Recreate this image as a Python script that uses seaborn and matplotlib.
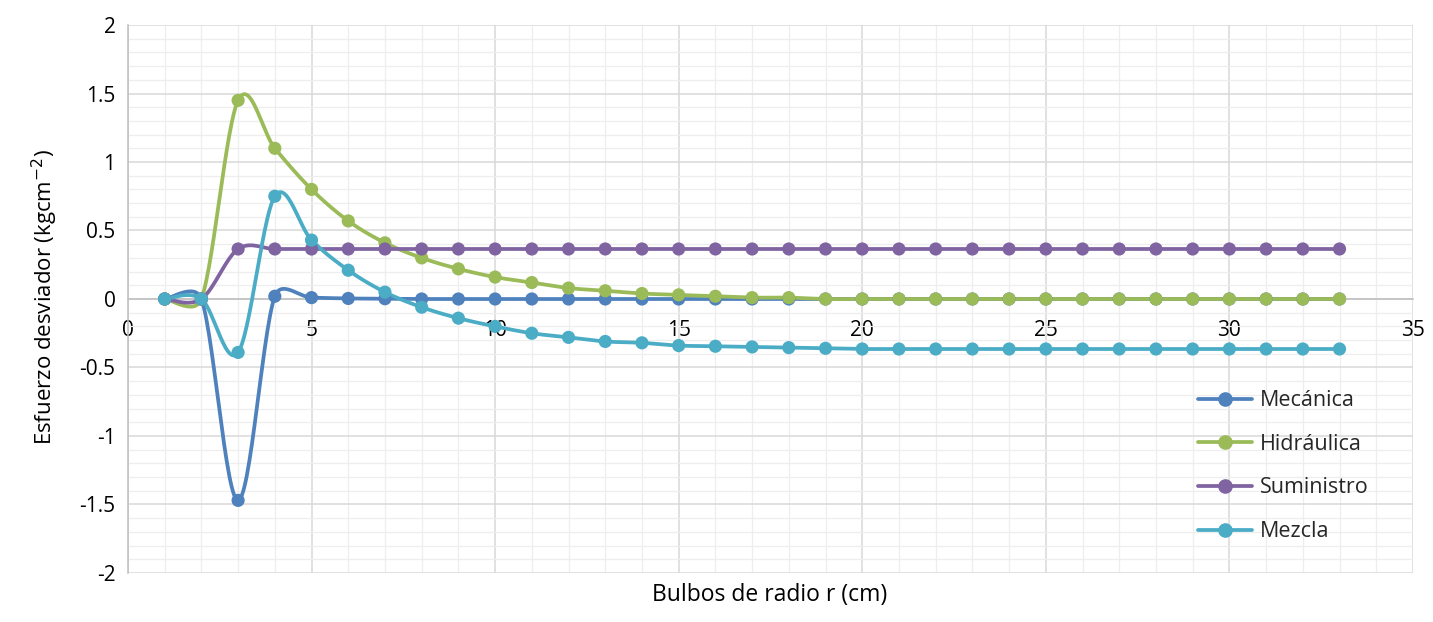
import numpy as np
import pandas as pd
import matplotlib
matplotlib.use("Agg")
import matplotlib.pyplot as plt
import seaborn as sns
from matplotlib.ticker import MultipleLocator

# ---- data ----
radio = list(range(1, 34))
mecanica = [0, 0, -1.47, 0.02, 0.01, 0.004, 0.002] + [0.0] * 26
hidraulica = [0, 0, 1.45, 1.10, 0.80, 0.57, 0.41, 0.30, 0.22, 0.16, 0.12, 0.08,
              0.06, 0.04, 0.03, 0.02, 0.01, 0.01] + [0.0] * 15
suministro = [0, 0] + [0.365] * 31
mezcla = [0, 0, -0.39, 0.75, 0.43, 0.21, 0.05, -0.06, -0.14, -0.20, -0.25, -0.28,
          -0.31, -0.32, -0.34, -0.345, -0.35, -0.355, -0.36] + [-0.365] * 14

series_names = ["Mecánica", "Hidráulica", "Suministro", "Mezcla"]
series_values = [mecanica, hidraulica, suministro, mezcla]
colors = ["#4F81BD", "#9BBB59", "#8064A2", "#4BACC6"]

x_ticks = [0, 5, 10, 15, 20, 25, 30, 35]
y_ticks = [-2, -1.5, -1, -0.5, 0, 0.5, 1, 1.5, 2]

# approximate pixel scale of the plot area (used only for the curve smoothing)
PX_X, PX_Y = 36.7, 137.0


def smooth(xs, ys, n=30):
    """Excel-like Bezier smoothing with limited control-point length."""
    p = np.column_stack([np.asarray(xs, float) * PX_X, np.asarray(ys, float) * PX_Y])
    pe = np.vstack([p[0], p, p[-1]])
    t = np.linspace(0, 1, n)
    out = []
    for i in range(len(p) - 1):
        a, b, c, d = pe[i], pe[i + 1], pe[i + 2], pe[i + 3]
        seg_len = np.linalg.norm(c - b)
        v1 = c - a
        v2 = d - b
        n1, n2 = np.linalg.norm(v1), np.linalg.norm(v2)
        f1 = 1 / 6 if n1 == 0 else min(1 / 6, 0.5 * seg_len / n1)
        f2 = 1 / 6 if n2 == 0 else min(1 / 6, 0.5 * seg_len / n2)
        c1 = b + v1 * f1
        c2 = c - v2 * f2
        seg = ((1 - t) ** 3)[:, None] * b + (3 * (1 - t) ** 2 * t)[:, None] * c1 \
            + (3 * (1 - t) * t ** 2)[:, None] * c2 + (t ** 3)[:, None] * c
        out.append(seg if i == 0 else seg[1:])
    s = np.vstack(out)
    return s[:, 0] / PX_X, s[:, 1] / PX_Y


sns.set_theme(style="white")
plt.rcParams["font.family"] = ["Open Sans", "DejaVu Sans"]

fig = plt.figure(figsize=(14.33, 6.22), dpi=100)
ax = fig.add_axes([0.0893, 0.0788, 0.8967, 0.881])

for name, vals, col in zip(series_names, series_values, colors):
    sx, sy = smooth(radio, vals)
    sm = pd.DataFrame({"x": sx, "y": sy})
    sns.lineplot(data=sm, x="x", y="y", ax=ax, color=col, linewidth=2.7,
                 sort=False, estimator=None, zorder=3)
    pts = pd.DataFrame({"x": radio, "y": vals})
    sns.scatterplot(data=pts, x="x", y="y", ax=ax, color=col, s=90,
                    edgecolor="none", zorder=4)
    ax.plot([], [], color=col, linewidth=2.7, marker="o", markersize=9.5, label=name)

ax.set_xlim(0, 35)
ax.set_ylim(-2, 2)
ax.set_xticks(x_ticks)
ax.set_yticks(y_ticks)
ax.set_xticklabels([str(v) for v in x_ticks])
ax.set_yticklabels([("%g" % v) for v in y_ticks])
ax.xaxis.set_minor_locator(MultipleLocator(1))
ax.yaxis.set_minor_locator(MultipleLocator(0.1))

ax.grid(which="major", color="#D9D9D9", linewidth=1.1, zorder=0)
ax.grid(which="minor", color="#EEEEEE", linewidth=0.9, zorder=0)
ax.set_axisbelow(True)

for s in ["top", "right"]:
    ax.spines[s].set_visible(False)
ax.spines["bottom"].set_position(("data", 0))
ax.spines["bottom"].set_color("#BFBFBF")
ax.spines["left"].set_color("#BFBFBF")
ax.spines["bottom"].set_linewidth(1.1)
ax.spines["left"].set_linewidth(1.1)
ax.spines["bottom"].set_zorder(2)

ax.tick_params(axis="both", which="major", length=5, width=1.1, color="#BFBFBF",
               labelsize=15, labelcolor="#000000", direction="out", pad=4)
ax.tick_params(axis="both", which="minor", length=0)
ax.tick_params(axis="x", pad=10)

ax.set_xlabel("")
ax.set_ylabel("")
fig.text(0.537, 0.043, "Bulbos de radio r (cm)", ha="center", va="center",
         fontsize=16.5, color="#000000")
fig.text(0.031, 0.522, "Esfuerzo desviador (kgcm$^{-2}$)", ha="center", va="center",
         rotation=90, fontsize=16, color="#000000")

leg = ax.legend(loc="center left", bbox_to_anchor=(0.818, 0.195), frameon=False,
                fontsize=15.5, handlelength=2.5, labelspacing=1.05, handletextpad=0.35,
                borderpad=0.4)

fig.savefig("out.png", dpi=100)
